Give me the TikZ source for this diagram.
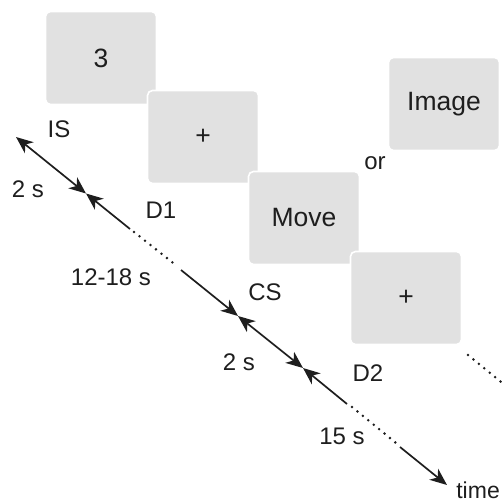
\documentclass[tikz,border=0pt]{standalone}
\usepackage{fontspec}
\setmainfont{Liberation Sans}
\usetikzlibrary{arrows.meta}
\definecolor{screen}{HTML}{E1E1E1}
\definecolor{ink}{HTML}{1E1E1E}
\begin{document}
\begin{tikzpicture}[x=1pt,y=-1pt,
  >={Stealth[length=17pt, width=14pt, inset=5pt]},
  screenbox/.style={rectangle, rounded corners=5pt, fill=screen, draw=white,
    line width=1.6pt, minimum width=111pt, minimum height=93pt, inner sep=0pt,
    text=ink, font=\fontsize{26.5}{30}\selectfont},
  lbl/.style={text=ink, inner sep=0pt, font=\fontsize{24}{28}\selectfont},
  tl/.style={line width=1.7pt, ink},
  dots/.style={ink, line width=2.8pt, line cap=round, dash pattern=on 0pt off 7pt}]
  \useasboundingbox (0,0) rectangle (503,502);

  % stimulus screens, later ones overlapping earlier ones
  \node[screenbox] (s1) at (101,58) {3};
  \node[screenbox] (s2) at (203,137) {+};
  \node[screenbox] (s3) at (304,218) {Move};
  \node[screenbox] (s4) at (406,298) {+};
  \node[screenbox] (s5) at (444,104) {Image};

  % event labels
  \node[lbl] (is) at (59,129) {IS};
  \node[lbl] (d1) at (161,210) {D1};
  \node[lbl] (cs) at (265,292) {CS};
  \node[lbl] (d2) at (368,373) {D2};
  \node[lbl] (or) at (375,163) {or};

  % time axis points
  \coordinate (t0) at (16,137);
  \coordinate (m1) at (86,193.5);
  \coordinate (a1) at (130,229);
  \coordinate (b1) at (134,232);
  \coordinate (c1) at (177,266);
  \coordinate (e1) at (181,270);
  \coordinate (m2) at (238,316);
  \coordinate (m3) at (303,368);
  \coordinate (a2) at (347,404);
  \coordinate (b2) at (352,407);
  \coordinate (c2) at (396,443);
  \coordinate (e2) at (400,447);
  \coordinate (t1) at (447,485);
  \coordinate (r0) at (468,355);
  \coordinate (r1) at (506,386);

  % axis segments with interval arrows
  \draw[tl, <->] (t0) -- (m1);
  \draw[tl, <-] (m1) -- (a1);
  \draw[dots] (b1) -- (c1);
  \draw[tl, ->] (e1) -- (m2);
  \draw[tl, <->] (m2) -- (m3);
  \draw[tl, <-] (m3) -- (a2);
  \draw[dots] (b2) -- (c2);
  \draw[tl, ->] (e2) -- (t1);
  \draw[dots] (r0) -- (r1);

  % interval durations
  \node[lbl] (dur1) at (28,189) {2 s};
  \node[lbl] (dur2) at (111,277) {12-18 s};
  \node[lbl] (dur3) at (239,362) {2 s};
  \node[lbl] (dur4) at (342,436) {15 s};
  \node[lbl, anchor=south east, font=\fontsize{23}{27}\selectfont] (time) at (500,499) {time};
\end{tikzpicture}
\end{document}
